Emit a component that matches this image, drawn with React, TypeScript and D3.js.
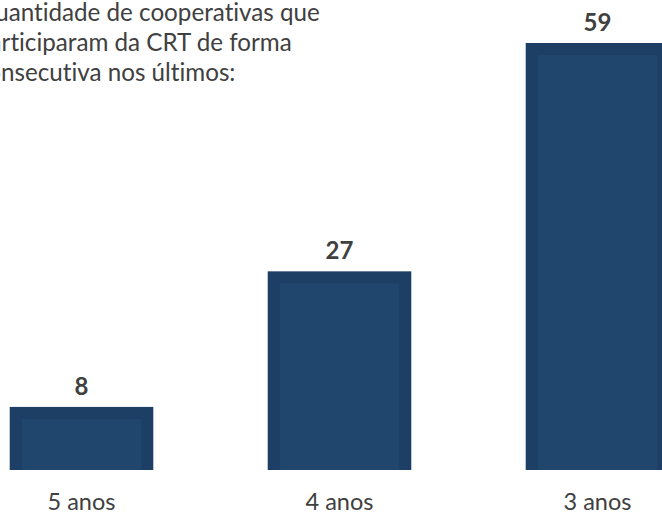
import * as d3 from 'd3';

// categories and values
const CATEGORIES = ['5 anos', '4 anos', '3 anos'];
const VALUES = [8, 27, 59];
const TITLE_LINES = [
  'Quantidade de cooperativas que',
  'participaram da CRT de forma',
  'consecutiva nos últimos:',
];

const W = 662;
const H = 515;
const BASE = 470; // bottom of the plot (bars are clipped here)
const TOP = 49; // y of the tallest bar's value
const BORDER = 12;
const OUTER = '#1d3f66';
const INNER = '#21466e';
const TEXT = '#404040';
const FONT = 'Lato, "Open Sans", sans-serif';

export default function App() {
  const x = d3
    .scaleBand<string>()
    .domain(CATEGORIES)
    .range([-47.5, 726.5])
    .paddingInner(0.49)
    .paddingOuter(0.245);
  const y = d3.scaleLinear().domain([0, d3.max(VALUES) as number]).range([BASE, TOP]);

  return (
    <svg
      width={W}
      height={H}
      style={{ position: 'absolute', left: 0, top: 0, background: '#fff', fontVariantLigatures: 'none' }}
      fontFamily={FONT}
    >
      <defs>
        <clipPath id="plot">
          <rect x={0} y={0} width={W} height={BASE} />
        </clipPath>
      </defs>

      {/* title, cut on the left like the source */}
      <text x={-24} y={21} fontSize={24.2} fill={TEXT}>
        {TITLE_LINES.map((line, i) => (
          <tspan key={i} x={-24} dy={i === 0 ? 0 : 30}>
            {line}
          </tspan>
        ))}
      </text>

      {/* bars */}
      <g clipPath="url(#plot)">
        {VALUES.map((v, i) => (
          <rect
            key={CATEGORIES[i]}
            x={x(CATEGORIES[i])}
            y={y(v)}
            width={x.bandwidth()}
            height={BASE - y(v) + BORDER}
            fill={INNER}
            stroke={OUTER}
            strokeWidth={BORDER}
          />
        ))}
      </g>

      {/* value labels */}
      {VALUES.map((v, i) => (
        <text
          key={'v' + i}
          x={(x(CATEGORIES[i]) as number) + x.bandwidth() / 2}
          y={y(v) - 18}
          textAnchor="middle"
          fontSize={24}
          fontWeight={700}
          fill={TEXT}
        >
          {v}
        </text>
      ))}

      {/* category labels */}
      {CATEGORIES.map((c) => (
        <text
          key={c}
          x={(x(c) as number) + x.bandwidth() / 2}
          y={510}
          textAnchor="middle"
          fontSize={23.5}
          fill={TEXT}
        >
          {c}
        </text>
      ))}
    </svg>
  );
}
